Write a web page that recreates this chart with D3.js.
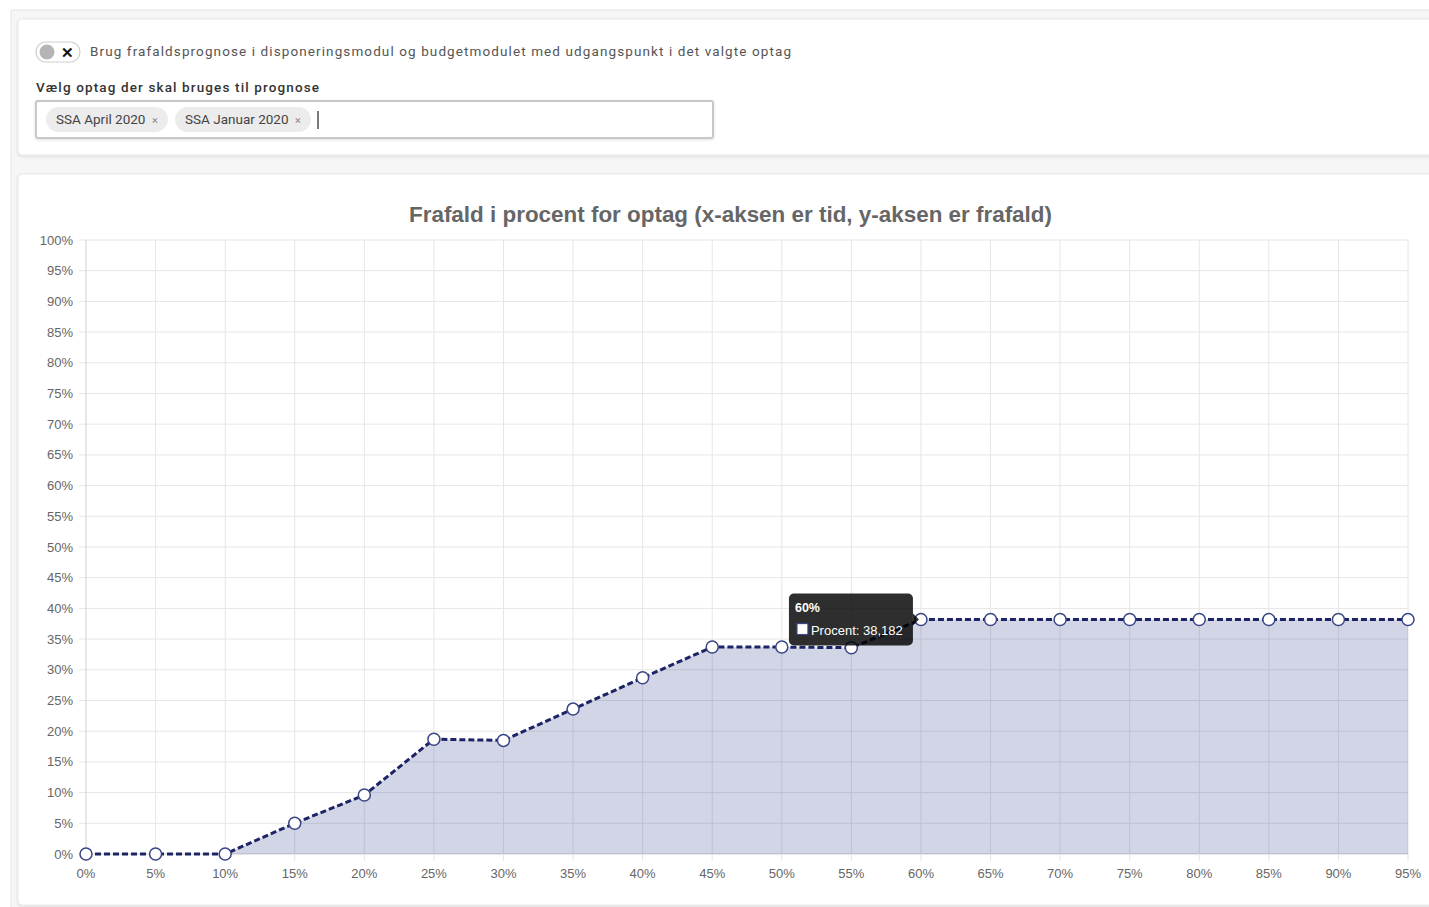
<!DOCTYPE html>
<html>
<head>
<meta charset="utf-8">
<script src="https://cdn.jsdelivr.net/npm/d3@7"></script>
<style>
  html, body { margin: 0; padding: 0; background: #fff; overflow: hidden; }
  svg { display: block; }
</style>
</head>
<body>
<div id="chart"></div>
<script>
// data
var xLabels = ["0%", "5%", "10%", "15%", "20%", "25%", "30%", "35%", "40%", "45%",
  "50%", "55%", "60%", "65%", "70%", "75%", "80%", "85%", "90%", "95%"];
var procent = [0, 0, 0, 5.0, 9.6, 18.7, 18.5, 23.6, 28.7, 33.7,
  33.7, 33.6, 38.182, 38.182, 38.182, 38.182, 38.182, 38.182, 38.182, 38.182];
var yTicks = d3.range(0, 101, 5);
var selectedTags = ["SSA April 2020", "SSA Januar 2020"];
var tooltipIndex = 12;

var width = 1429,
  height = 907;

var svg = d3
  .select("#chart")
  .append("svg")
  .attr("width", width)
  .attr("height", height);

var defs = svg.append("defs");
var shadow = defs.append("filter").attr("id", "shadow").attr("x", "-5%").attr("y", "-5%").attr("width", "110%").attr("height", "115%");
shadow.append("feDropShadow").attr("dx", 0).attr("dy", 1).attr("stdDeviation", 1.5).attr("flood-color", "#000").attr("flood-opacity", 0.12);

// page background panel
svg.append("rect")
  .attr("x", 11).attr("y", 10)
  .attr("width", width).attr("height", height)
  .attr("fill", "#f6f6f6")
  .attr("stroke", "#e6e6e6");

// cards
svg.append("rect")
  .attr("x", 18).attr("y", 19).attr("rx", 4)
  .attr("width", width).attr("height", 136)
  .attr("fill", "#fff").attr("stroke", "#e8e8e8")
  .attr("filter", "url(#shadow)");
svg.append("rect")
  .attr("x", 18).attr("y", 174).attr("rx", 4)
  .attr("width", width).attr("height", 731)
  .attr("fill", "#fff").attr("stroke", "#e8e8e8")
  .attr("filter", "url(#shadow)");

// top card: toggle + text
var head = svg.append("g");
head.append("rect")
  .attr("x", 36).attr("y", 42).attr("width", 44).attr("height", 20).attr("rx", 10)
  .attr("fill", "#fff").attr("stroke", "#cfcfcf").attr("stroke-width", 1.2);
head.append("circle").attr("cx", 47).attr("cy", 52).attr("r", 7.5).attr("fill", "#b5b5b5");
head.append("text")
  .attr("x", 67).attr("y", 57.5).attr("text-anchor", "middle")
  .style("font", "bold 15px 'Liberation Sans', Arial, sans-serif")
  .attr("fill", "#111").text("✕");
head.append("text")
  .attr("x", 90).attr("y", 56)
  .attr("textLength", 701).attr("lengthAdjust", "spacing")
  .style("font", "13.5px Roboto, 'Noto Sans', sans-serif")
  .attr("fill", "#555")
  .text("Brug frafaldsprognose i disponeringsmodul og budgetmodulet med udgangspunkt i det valgte optag");
head.append("text")
  .attr("x", 36).attr("y", 92)
  .attr("textLength", 283).attr("lengthAdjust", "spacing")
  .style("font", "500 13.5px Roboto, 'Noto Sans', sans-serif")
  .attr("fill", "#333")
  .text("Vælg optag der skal bruges til prognose");

// select box
head.append("rect")
  .attr("x", 36).attr("y", 101).attr("width", 677).attr("height", 37).attr("rx", 2)
  .attr("fill", "#fff").attr("stroke", "#c8c8c8").attr("stroke-width", 2)
  .attr("filter", "url(#shadow)");

var tagX = [46, 175],
  tagW = [122, 136];
var tags = head.selectAll("g.tag")
  .data(selectedTags)
  .enter()
  .append("g")
  .attr("class", "tag")
  .attr("transform", function(d, i) {
    return "translate(" + tagX[i] + ",107)";
  });
tags.append("rect")
  .attr("width", function(d, i) { return tagW[i]; })
  .attr("height", 25).attr("rx", 12.5)
  .attr("fill", "#ececec");
tags.append("text")
  .attr("x", 10).attr("y", 17)
  .style("font", "13.5px Roboto, 'Noto Sans', sans-serif")
  .attr("fill", "#444")
  .text(function(d) { return d; });
tags.append("text")
  .attr("x", function(d, i) { return tagW[i] - 13; }).attr("y", 16.5)
  .attr("text-anchor", "middle")
  .style("font", "11px Roboto, sans-serif")
  .attr("fill", "#888")
  .text("×");
head.append("line")
  .attr("x1", 318).attr("x2", 318).attr("y1", 111).attr("y2", 129)
  .attr("stroke", "#222").attr("stroke-width", 1.2);

// chart
var m = { left: 86, right: 1408, top: 240, bottom: 854 };

var x = d3.scalePoint().domain(xLabels).range([m.left, m.right]);
var y = d3.scaleLinear().domain([0, 100]).range([m.bottom, m.top]);

svg.append("text")
  .attr("x", 730.5).attr("y", 222)
  .attr("text-anchor", "middle")
  .attr("textLength", 643).attr("lengthAdjust", "spacingAndGlyphs")
  .style("font", "bold 21.5px 'Liberation Sans', Arial, Helvetica, sans-serif")
  .attr("fill", "#666")
  .text("Frafald i procent for optag (x-aksen er tid, y-aksen er frafald)");

var chart = svg.append("g");

// grid
chart.append("g")
  .selectAll("line")
  .data(yTicks)
  .enter()
  .append("line")
  .attr("x1", m.left - 7).attr("x2", m.right)
  .attr("y1", function(d) { return y(d); })
  .attr("y2", function(d) { return y(d); })
  .attr("stroke", function(d) { return d === 0 ? "#cfcfcf" : "#e6e6e6"; })
  .attr("stroke-width", 1);
chart.append("g")
  .selectAll("line")
  .data(xLabels)
  .enter()
  .append("line")
  .attr("x1", function(d) { return x(d); })
  .attr("x2", function(d) { return x(d); })
  .attr("y1", m.top).attr("y2", m.bottom + 7)
  .attr("stroke", function(d, i) { return i === 0 ? "#cfcfcf" : "#e6e6e6"; })
  .attr("stroke-width", 1);

// axis labels
chart.append("g")
  .selectAll("text")
  .data(yTicks)
  .enter()
  .append("text")
  .attr("x", 73)
  .attr("y", function(d) { return y(d) + 4.5; })
  .attr("text-anchor", "end")
  .style("font", "13px 'Liberation Sans', Arial, sans-serif")
  .attr("fill", "#666")
  .text(function(d) { return d + "%"; });
chart.append("g")
  .selectAll("text")
  .data(xLabels)
  .enter()
  .append("text")
  .attr("x", function(d) { return x(d); })
  .attr("y", 878)
  .attr("text-anchor", "middle")
  .style("font", "13px 'Liberation Sans', Arial, sans-serif")
  .attr("fill", "#666")
  .text(function(d) { return d; });

var pts = xLabels.map(function(l, i) { return { label: l, value: procent[i] }; });

var area = d3.area()
  .x(function(d) { return x(d.label); })
  .y0(y(0))
  .y1(function(d) { return y(d.value); });
chart.append("path")
  .datum(pts)
  .attr("d", area)
  .attr("fill", "rgba(30,45,125,0.2)");

var line = d3.line()
  .x(function(d) { return x(d.label); })
  .y(function(d) { return y(d.value); });
chart.append("path")
  .datum(pts)
  .attr("d", line)
  .attr("fill", "none")
  .attr("stroke", "#1c2466")
  .attr("stroke-width", 3)
  .attr("stroke-dasharray", "6,3");

chart.append("g")
  .selectAll("circle")
  .data(pts)
  .enter()
  .append("circle")
  .attr("cx", function(d) { return x(d.label); })
  .attr("cy", function(d) { return y(d.value); })
  .attr("r", 6)
  .attr("fill", "#fff")
  .attr("stroke", "#3a4685")
  .attr("stroke-width", 1.5);

// tooltip
var tp = pts[tooltipIndex];
var tx = x(tp.label) - 8,
  ty = y(tp.value);
var tip = svg.append("g");
tip.append("rect")
  .attr("x", tx - 124).attr("y", ty - 26).attr("width", 124).attr("height", 52).attr("rx", 5)
  .attr("fill", "rgba(0,0,0,0.82)");
tip.append("path")
  .attr("d", "M" + tx + "," + (ty - 6) + "L" + (tx + 6) + "," + ty + "L" + tx + "," + (ty + 6) + "Z")
  .attr("fill", "rgba(0,0,0,0.82)");
tip.append("text")
  .attr("x", tx - 118).attr("y", ty - 8)
  .style("font", "bold 12.5px 'Liberation Sans', Arial, sans-serif")
  .attr("fill", "#fff")
  .text(tp.label);
tip.append("rect")
  .attr("x", tx - 116).attr("y", ty + 4).attr("width", 11).attr("height", 11)
  .attr("fill", "#fff").attr("stroke", "#3a4685").attr("stroke-width", 1.2);
tip.append("text")
  .attr("x", tx - 102).attr("y", ty + 15)
  .style("font", "13px 'Liberation Sans', Arial, sans-serif")
  .attr("fill", "#fff")
  .text("Procent: " + d3.format(",.3f")(tp.value).replace(".", ","));
</script>
</body>
</html>
